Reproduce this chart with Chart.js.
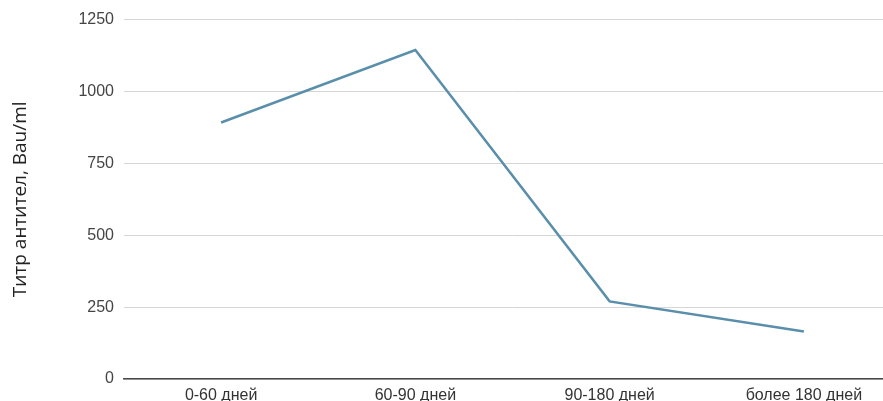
<!DOCTYPE html>
<html>
<head>
<meta charset="utf-8">
<script src="https://cdn.jsdelivr.net/npm/chart.js@4"></script>
<style>
  html, body { margin: 0; padding: 0; background: #fff; overflow: hidden; }
  #wrap { position: relative; width: 905px; height: 401px; }
</style>
</head>
<body>
<div id="wrap"><canvas id="myChart"></canvas></div>
<script>
var periodos = ['0-60 дней', '60-90 дней', '90-180 дней', 'более 180 дней']
var titr = [892, 1144, 270, 165]
var yTicks = [0, 250, 500, 750, 1000, 1250]

const ctx = document.getElementById('myChart').getContext('2d');
const myChart = new Chart(ctx, {
    type: 'line',
    data: {
        labels: periodos,
        datasets: [{
            label: 'Титр антител',
            data: titr,
            fill: false,
            borderColor: '#5a8fab',
            borderWidth: 2.5,
            pointRadius: 0,
            tension: 0
        }]
    },
    options: {
        responsive: true,
        maintainAspectRatio: false,
        animation: false,
        layout: { padding: { top: 19, right: 4, bottom: 0, left: 0 } },
        plugins: {
            legend: { display: false },
            tooltip: { enabled: false }
        },
        scales: {
            x: {
                offset: true,
                grid: { display: false, drawTicks: false },
                border: { display: true, color: '#4a4a4a', width: 1.5 },
                ticks: {
                    color: '#333',
                    padding: 7,
                    font: { family: 'Liberation Sans', size: 16 }
                },
                afterFit: function (s) { s.height = 22 }
            },
            y: {
                min: 0,
                max: 1250,
                afterBuildTicks: function (s) { s.ticks = yTicks.map(function (v) { return { value: v } }) },
                grid: { color: '#d6d6d6', lineWidth: 1, drawTicks: false },
                border: { display: false },
                ticks: {
                    color: '#444',
                    padding: 10,
                    font: { family: 'Liberation Sans', size: 16 },
                    callback: function (v) { return String(v) }
                },
                title: {
                    display: true,
                    text: 'Титр антител, Bau/ml',
                    color: '#222',
                    padding: { top: 9, bottom: 0 },
                    font: { family: 'Open Sans', size: 19 }
                },
                afterFit: function (s) { s.width = 124 }
            }
        }
    }
});
</script>
</body>
</html>
